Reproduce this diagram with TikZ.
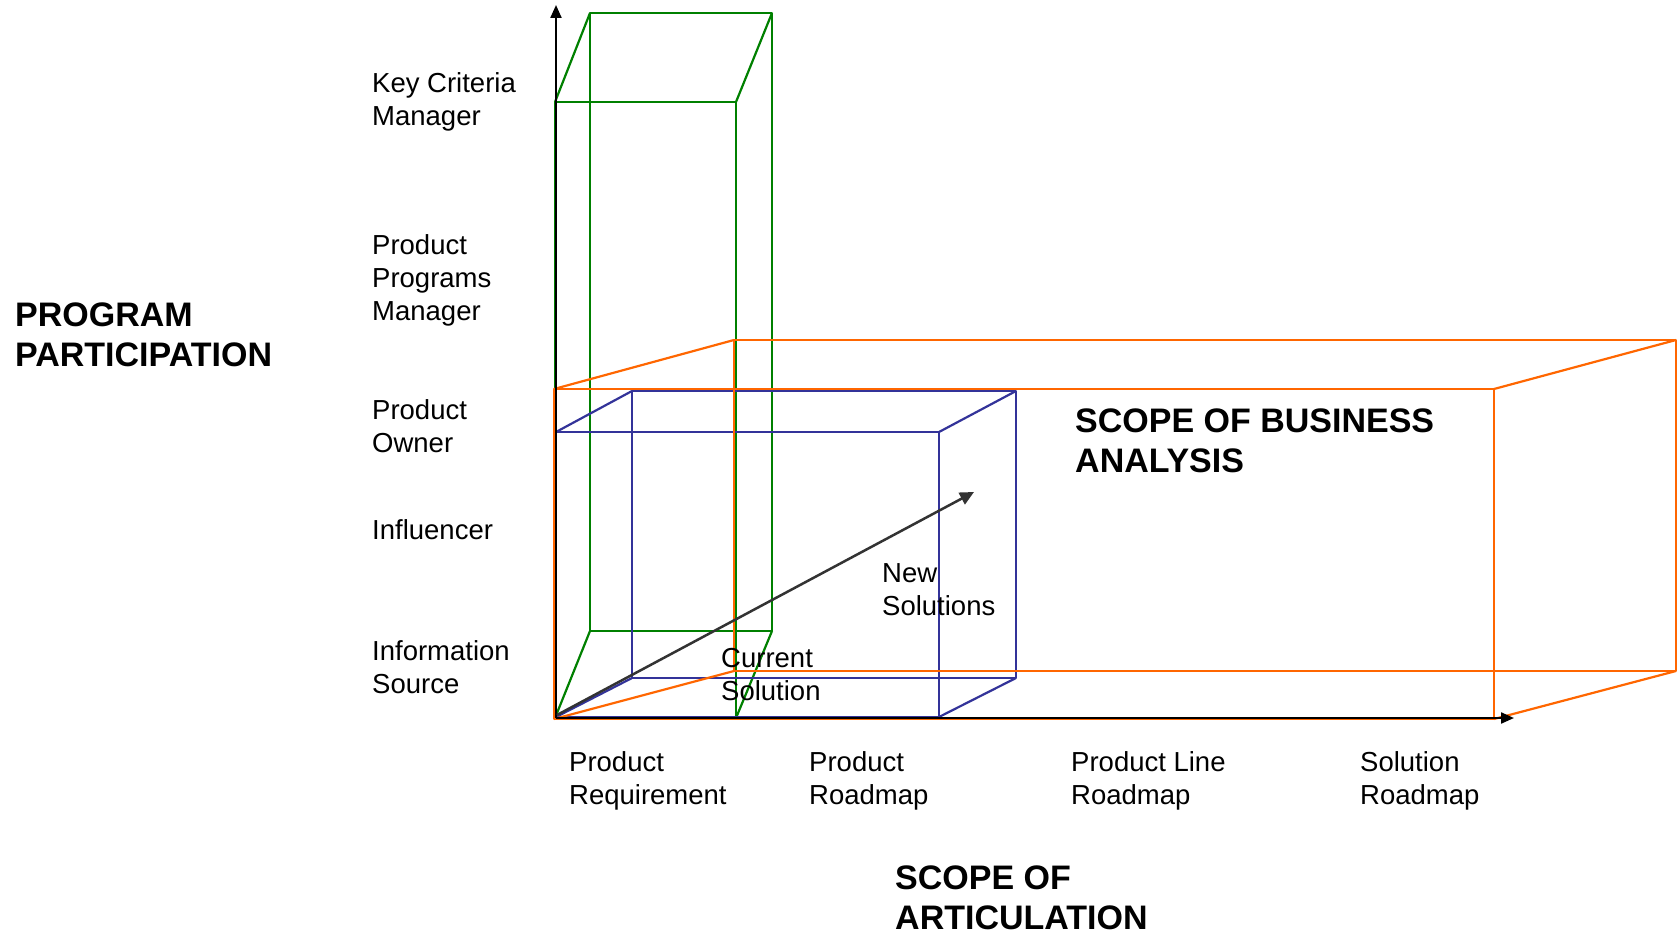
\documentclass[tikz,border=0pt]{standalone}
\usepackage{fontspec}
\setmainfont{Liberation Sans}
\usetikzlibrary{arrows.meta}
\definecolor{gbox}{RGB}{0,128,0}
\definecolor{bbox}{RGB}{51,51,153}
\definecolor{obox}{RGB}{255,102,0}
\begin{document}
\begin{tikzpicture}[x=1pt,y=-1pt,
  lbl/.style={anchor=base west,inner sep=0pt,align=left,font=\fontsize{27.5}{33}\selectfont},
  head/.style={anchor=base west,inner sep=0pt,align=left,font=\fontsize{34}{39.5}\selectfont\bfseries},
  edge/.style={line width=2.2pt,line join=round},
  axis/.style={line width=2.2pt,-{Triangle[length=13pt,width=11pt]}},
  flow/.style={line width=2.5pt,black!80,-{Triangle[length=14pt,width=13pt]}}
]
\useasboundingbox (0,0) rectangle (1678,936);
% ---------- green box ----------
\coordinate (gFTL) at (555,102); \coordinate (gFTR) at (736,102);
\coordinate (gFBL) at (555,718); \coordinate (gFBR) at (736,718);
\coordinate (gBTL) at (590,13);  \coordinate (gBTR) at (772,13);
\coordinate (gBBL) at (590,631); \coordinate (gBBR) at (772,631);
\draw[edge,gbox] (gBTL) rectangle (gBBR);
\draw[edge,gbox] (gFTL) rectangle (gFBR);
\draw[edge,gbox] (gFTL) -- (gBTL) (gFTR) -- (gBTR) (gFBL) -- (gBBL) (gFBR) -- (gBBR);
% ---------- blue box ----------
\coordinate (bFTL) at (556,432); \coordinate (bFTR) at (939,432);
\coordinate (bFBL) at (556,717); \coordinate (bFBR) at (939,717);
\coordinate (bBTL) at (632,391); \coordinate (bBTR) at (1016,391);
\coordinate (bBBL) at (632,678); \coordinate (bBBR) at (1016,678);
\draw[edge,bbox] (bBTL) rectangle (bBBR);
\draw[edge,bbox] (bFTL) rectangle (bFBR);
\draw[edge,bbox] (bFTL) -- (bBTL) (bFTR) -- (bBTR) (bFBL) -- (bBBL) (bFBR) -- (bBBR);
% ---------- orange box ----------
\coordinate (oFTL) at (554,389);  \coordinate (oFTR) at (1494,389);
\coordinate (oFBL) at (554,719);  \coordinate (oFBR) at (1494,719);
\coordinate (oBTL) at (734,340);  \coordinate (oBTR) at (1676,340);
\coordinate (oBBL) at (734,671);  \coordinate (oBBR) at (1676,671);
\draw[edge,obox] (oBTL) rectangle (oBBR);
\draw[edge,obox] (oFTL) rectangle (oFBR);
\draw[edge,obox] (oFTL) -- (oBTL) (oFTR) -- (oBTR) (oFBL) -- (oBBL) (oFBR) -- (oBBR);
% ---------- axes ----------
\coordinate (origin) at (556,718);
\coordinate (yTop) at (556,5);
\coordinate (xEnd) at (1514,718);
\draw[axis] (origin) -- (yTop);
\draw[axis] (origin) -- (xEnd);
% ---------- solution arrow ----------
\coordinate (arrStart) at (557,715);
\coordinate (arrEnd) at (974,492);
\draw[flow] (arrStart) -- (arrEnd);
% ---------- labels (anchored at the baseline of the last line) ----------
\node[head] (pp) at (15,366) {PROGRAM\\PARTICIPATION};
\node[lbl] (kcm) at (372,126) {Key Criteria\\Manager};
\node[lbl] (ppm) at (372,320) {Product\\Programs\\Manager};
\node[lbl] (po) at (372,452) {Product\\Owner};
\node[lbl] (inf) at (372,539) {Influencer};
\node[lbl] (is) at (372,693) {Information\\Source};
\node[lbl] (pr) at (569,804) {Product\\Requirement};
\node[lbl] (prm) at (809,804) {Product\\Roadmap};
\node[lbl] (plr) at (1071,804) {Product Line\\Roadmap};
\node[lbl] (sr) at (1360,804) {Solution\\Roadmap};
\node[head,text depth=0pt] (soa) at (895,929) {SCOPE OF\\ARTICULATION};
\node[head] (soba) at (1075,472) {SCOPE OF BUSINESS\\ANALYSIS};
\node[lbl] (ns) at (882,615) {New\\Solutions};
\node[lbl] (cs) at (721,700) {Current\\Solution};
\end{tikzpicture}
\end{document}
